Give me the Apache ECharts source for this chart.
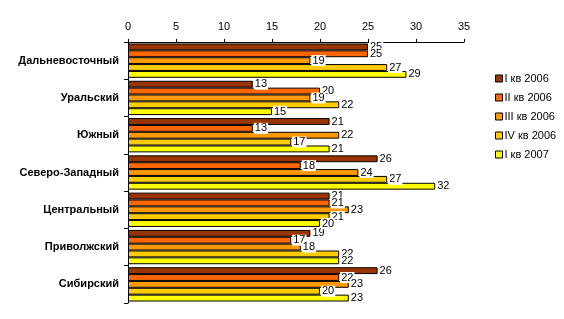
<!DOCTYPE html>
<html><head><meta charset="utf-8">
<script src="https://cdn.jsdelivr.net/npm/echarts@6/dist/echarts.min.js"></script>
<style>html,body{margin:0;padding:0;background:#fff}#c{width:564px;height:319px}</style>
</head><body><div id="c"></div>
<script>
const categories = ['Дальневосточный','Уральский','Южный','Северо-Западный','Центральный','Приволжский','Сибирский'];
const seriesNames = ['I кв 2006','II кв 2006','III кв 2006','IV кв 2006','I кв 2007'];
const q1_2006 = [25,13,21,26,21,19,26];
const q2_2006 = [25,20,13,18,21,17,22];
const q3_2006 = [19,19,22,24,23,18,23];
const q4_2006 = [27,22,17,27,21,22,20];
const q1_2007 = [29,15,21,32,20,22,23];
const colors = ['#993300','#FF6600','#FF9900','#FFCC00','#FFFF00'];
const allData = [q1_2006,q2_2006,q3_2006,q4_2006,q1_2007];
const FONT = 'Liberation Sans, Arial, sans-serif';
const chart = echarts.init(document.getElementById('c'));
chart.setOption({
  animation:false,
  backgroundColor:'#fff',
  grid:{left:128,right:100,top:42,bottom:16},
  legend:{
    orient:'vertical', left:490, top:68, itemGap:8,
    itemWidth:7, itemHeight:7, icon:'rect',
    textStyle:{fontFamily:FONT,fontSize:11,color:'#000',padding:[0,0,0,-3]},
    itemStyle:{borderColor:'#000',borderWidth:1},
    data:seriesNames
  },
  xAxis:{
    type:'value', position:'top', min:0, max:35, interval:5,
    axisLine:{show:true,lineStyle:{color:'#000',width:1}},
    axisTick:{show:true,length:3,lineStyle:{color:'#000'}},
    axisLabel:{fontFamily:FONT,fontSize:11,color:'#000',margin:10},
    splitLine:{show:false}
  },
  yAxis:{
    type:'category', inverse:true, data:categories,
    axisLine:{show:true,lineStyle:{color:'#000',width:1}},
    axisTick:{show:true,length:4,lineStyle:{color:'#000'}},
    axisLabel:{fontFamily:FONT,fontSize:11,fontWeight:'bold',color:'#000',margin:9}
  },
  series: seriesNames.map((n,i)=>({
    name:n, type:'bar', data:allData[i],
    barGap:'0%', barCategoryGap:'8%',
    itemStyle:{color:colors[i],borderColor:'#000',borderWidth:1},
    label:{show:true,position:'right',distance:1,fontFamily:FONT,fontSize:11,color:'#000',
           backgroundColor:'#fff',padding:[0,1,0,1]}
  }))
});
</script></body></html>
